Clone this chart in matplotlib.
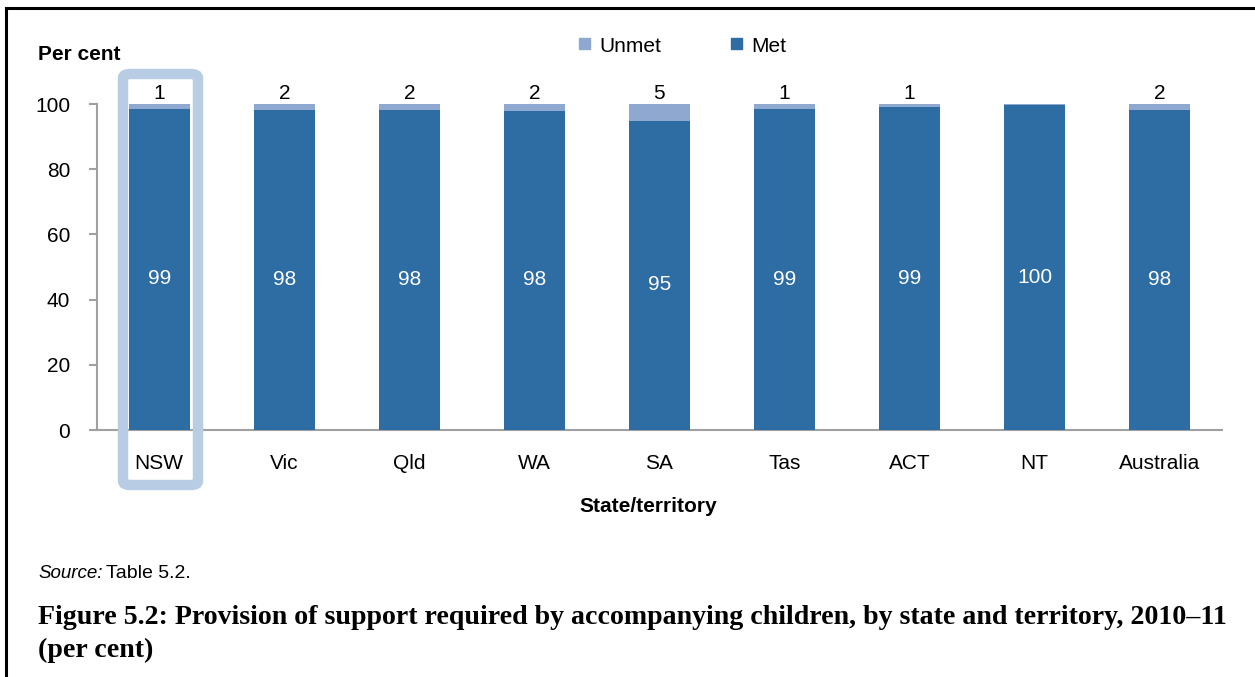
import matplotlib
matplotlib.use("Agg")
import matplotlib.pyplot as plt
from matplotlib.patches import FancyBboxPatch
from matplotlib.lines import Line2D

categories = ["NSW", "Vic", "Qld", "WA", "SA", "Tas", "ACT", "NT", "Australia"]
met = [98.6, 98.2, 98.2, 98.0, 94.7, 98.5, 99.2, 99.8, 98.2]
unmet = [100 - m for m in met]
met_labels = ["99", "98", "98", "98", "95", "99", "99", "100", "98"]
unmet_labels = ["1", "2", "2", "2", "5", "1", "1", "", "2"]
yticks = [0, 20, 40, 60, 80, 100]

MET_C = "#2e6ca4"
UNMET_C = "#8fa8d0"
HL_C = "#b8cce4"

plt.rcParams['font.family'] = ['Liberation Sans', 'DejaVu Sans']
FS = 15

W, H = 1255, 677
fig = plt.figure(figsize=(W / 100, H / 100), dpi=100)

def fx(px):
    return px / W

def fy(py):
    return 1 - py / H

ax = fig.add_axes([fx(96.7), fy(430), fx(1222) - fx(96.7), fy(104) - fy(430)])
x = list(range(len(categories)))
ax.bar(x, met, width=0.49, color=MET_C, clip_on=False, zorder=3)
ax.bar(x, unmet, width=0.49, bottom=met, color=UNMET_C, clip_on=False, zorder=3)

for i in x:
    ax.text(i, met[i] * 0.47, met_labels[i], ha="center", va="center",
            color="white", fontsize=FS, zorder=4)
    if unmet_labels[i]:
        ax.text(i, 100.2, unmet_labels[i], ha="center", va="bottom",
                color="black", fontsize=FS, zorder=4)

ax.set_xlim(-0.5, len(categories) - 0.5)
ax.set_ylim(0, 100)
ax.set_yticks(yticks)
ax.set_xticks(x)
ax.set_xticklabels(categories, fontsize=FS)
ax.tick_params(axis="y", labelsize=FS, length=6, color="#a0a0a0", width=1.5, pad=13)
ax.tick_params(axis="x", length=0, pad=17)
for s in ["top", "right"]:
    ax.spines[s].set_visible(False)
ax.spines["left"].set_color("#a0a0a0")
ax.spines["bottom"].set_color("#a0a0a0")
ax.spines["left"].set_linewidth(1.5)
ax.spines["bottom"].set_linewidth(1.5)
ax.set_facecolor("none")

# highlight around NSW
hl = FancyBboxPatch((fx(123), fy(485)), fx(198) - fx(123), fy(74) - fy(485),
                    boxstyle="round,pad=0,rounding_size=0.006",
                    transform=fig.transFigure, fill=False, edgecolor=HL_C,
                    linewidth=7.5, zorder=10)
fig.patches.append(hl)

# legend
fig.patches.append(plt.Rectangle((fx(579), fy(49)), fx(11), fy(38) - fy(49),
                                 transform=fig.transFigure, color=UNMET_C))
fig.text(fx(599), fy(46), "Unmet", fontsize=FS, va="center")
fig.patches.append(plt.Rectangle((fx(731), fy(49)), fx(11), fy(38) - fy(49),
                                 transform=fig.transFigure, color=MET_C))
fig.text(fx(751), fy(46), "Met", fontsize=FS, va="center")

fig.text(fx(38), fy(54), "Per cent", fontsize=FS, fontweight="bold", va="center")
fig.text(fx(648), fy(507), "State/territory", fontsize=FS, fontweight="bold",
         va="center", ha="center")

fig.text(fx(38), fy(574), "Source:", fontsize=13.5, style="italic", va="center")
fig.text(fx(106), fy(574), "Table 5.2.", fontsize=14, va="center")

fig.text(fx(38), fy(617), "Figure 5.2: Provision of support required by accompanying children, by state and territory, 2010\u201311",
         fontsize=20.1, fontweight="bold", family=["Liberation Serif", "DejaVu Serif"], va="center")
fig.text(fx(38), fy(650), "(per cent)",
         fontsize=20.1, fontweight="bold", family=["Liberation Serif", "DejaVu Serif"], va="center")

# frame lines
fig.add_artist(Line2D([fx(5.5), 1], [fy(7.5), fy(7.5)], color="black", lw=2.2,
                      transform=fig.transFigure))
fig.add_artist(Line2D([fx(5.5), fx(5.5)], [0, fy(7.5)], color="black", lw=2.2,
                      transform=fig.transFigure))

fig.savefig("out.png", dpi=100)
